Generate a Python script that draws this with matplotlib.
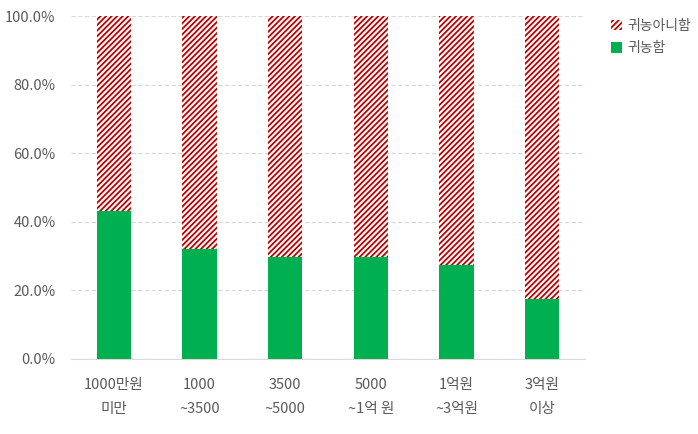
import matplotlib.pyplot as plt
from matplotlib.ticker import PercentFormatter

plt.rcParams['font.family'] = ['Noto Sans CJK KR', 'DejaVu Sans']
plt.rcParams['hatch.linewidth'] = 1.3

categories = ["1000만원\n미만", "1000\n~3500", "3500\n~5000",
              "5000\n~1억 원", "1억원\n~3억원", "3억원\n이상"]
gwinong = [43.1, 32.1, 29.7, 29.7, 27.4, 17.5]
not_gwinong = [100 - v for v in gwinong]

fig = plt.figure(figsize=(6.98, 4.34), dpi=100)
ax = fig.add_axes([71 / 698, 75 / 434, 514 / 698, 343 / 434])

x = range(len(categories))
ax.bar(x, gwinong, width=0.4, color="#00B050", label="귀농함", zorder=3)
ax.bar(x, not_gwinong, width=0.4, bottom=gwinong, color="white",
       edgecolor="#C00000", linewidth=0, hatch="//////", label="귀농아니함", zorder=3)

ax.set_ylim(0, 100)
ax.set_xlim(-0.5, len(categories) - 0.5)
ax.set_yticks(range(0, 101, 20))
ax.yaxis.set_major_formatter(PercentFormatter(decimals=1))
ax.grid(axis="y", color="#D9D9D9", linestyle=(0, (4, 2)), linewidth=0.8, zorder=0)
for s in ["top", "right", "left"]:
    ax.spines[s].set_visible(False)
ax.spines["bottom"].set_color("#D9D9D9")
ax.tick_params(length=0, colors="#595959", labelsize=10.5)
ax.tick_params(axis="y", pad=11)
ax.tick_params(axis="x", pad=14)
ax.set_xticks(list(x))
ax.set_xticklabels(categories, linespacing=1.9)

handles, labels = ax.get_legend_handles_labels()
fig.legend(handles[::-1], labels[::-1], loc="upper left", bbox_to_anchor=(598 / 698, 0.985),
           frameon=False, fontsize=10, handlelength=0.8, handleheight=0.8,
           handletextpad=0.4, labelspacing=0.6, labelcolor="#595959")

fig.savefig("out.png", dpi=100)
